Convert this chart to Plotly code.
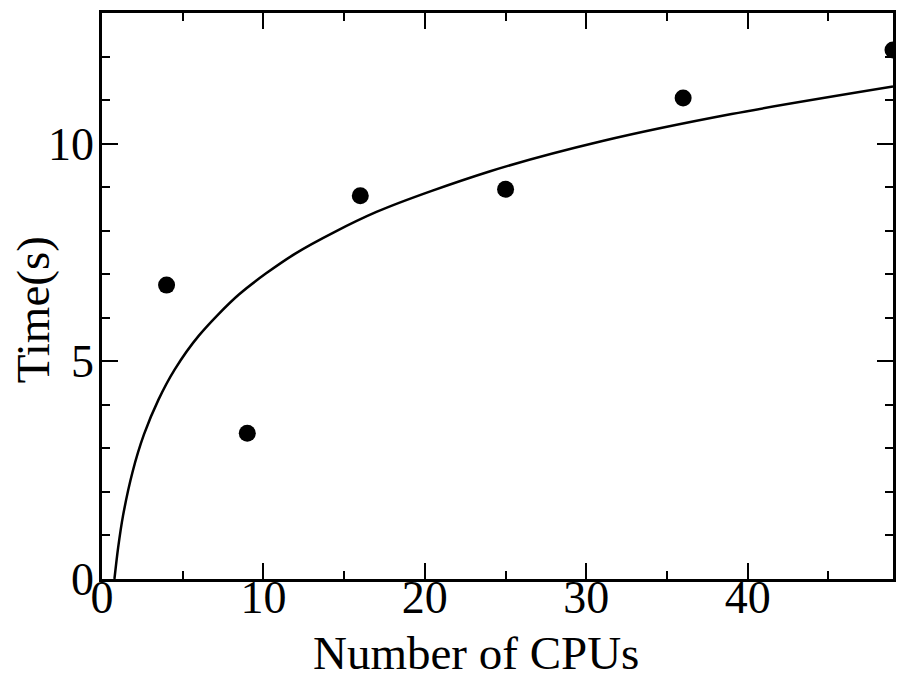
import plotly.graph_objects as go

# Measured data points
cpus = [4, 9, 16, 25, 36, 49]
times = [6.75, 3.35, 8.8, 8.95, 11.05, 12.15]

# Fit curve, points
fit_x = [0.77, 1.0, 1.3, 1.9, 2.6, 3.5, 4.5, 6, 8.5, 12, 17, 24, 31, 39, 49]
fit_y = [0.0, 0.72, 1.45, 2.47, 3.32, 4.12, 4.81, 5.59, 6.54, 7.48, 8.43, 9.36, 10.06, 10.68, 11.31]

x_ticks = [0, 10, 20, 30, 40]
y_ticks = [0, 5, 10]

FONT = "Liberation Serif"
W, H = 897, 679
L, R, T, B = 102, 1, 13, 100

fig = go.Figure()
fig.add_trace(go.Scatter(x=fit_x, y=fit_y, mode="lines", line=dict(color="black", width=2.5, shape="spline", smoothing=0.8), showlegend=False))
fig.add_trace(go.Scatter(x=cpus, y=times, mode="markers", marker=dict(color="black", size=17), showlegend=False))

axis_common = dict(
    showline=True, linecolor="black", linewidth=2.5, mirror="ticks",
    ticks="inside", ticklen=16, tickwidth=2, tickcolor="black",
    showgrid=False, zeroline=False,
    tickfont=dict(family=FONT, size=46, color="black"),
)

fig.update_xaxes(range=[0, 49], tickvals=x_ticks, ticktext=[str(v) for v in x_ticks],
                 ticklabelstandoff=-24,
                 minor=dict(dtick=5, tick0=0, ticks="inside", ticklen=8, tickwidth=2, tickcolor="black", showgrid=False),
                 **axis_common)
fig.update_yaxes(range=[0, 13], tickvals=y_ticks, ticktext=[str(v) for v in y_ticks],
                 ticklabelstandoff=-4,
                 minor=dict(dtick=1, tick0=0, ticks="inside", ticklen=8, tickwidth=2, tickcolor="black", showgrid=False),
                 **axis_common)

pw = W - L - R
ph = H - T - B
fig.add_annotation(text="Number of CPUs", xref="paper", yref="paper",
                   x=(477.5 - L) / pw, y=-(653 - (H - B)) / ph, xanchor="center", yanchor="middle",
                   showarrow=False, font=dict(family=FONT, size=47, color="black"))
fig.add_annotation(text="Time(s)", xref="paper", yref="paper", textangle=-90,
                   x=(33 - L) / pw, y=((H - B) - 310) / ph, xanchor="center", yanchor="middle",
                   showarrow=False, font=dict(family=FONT, size=47, color="black"))

fig.update_layout(width=W, height=H, margin=dict(l=L, r=R, t=T, b=B),
                  plot_bgcolor="white", paper_bgcolor="white")

fig.write_html("out.html")
